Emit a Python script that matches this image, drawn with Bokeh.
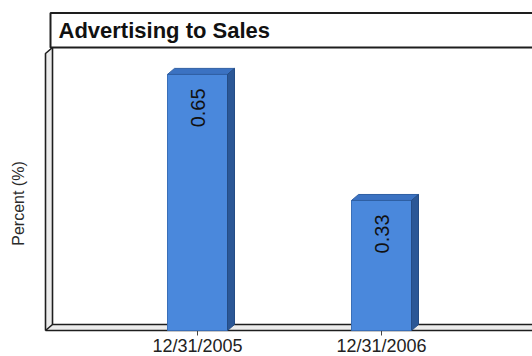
from math import pi
from bokeh.plotting import figure
from bokeh.models import Range1d
from bokeh.core.properties import value
from bokeh.embed import file_html
from bokeh.resources import INLINE

# ---- data ----
title = "Advertising to Sales"
y_label = "Percent (%)"
categories = ["12/31/2005", "12/31/2006"]
values = [0.65, 0.33]
value_labels = ["0.65", "0.33"]

# ---- layout helpers (pixel <-> data mapping) ----
W, H = 532, 356
x0, sx = 197.0, 184.0   # pixel of first category centre, pixels per category
y0, sy = 330.0, 394.0   # pixel of zero line, pixels per unit
xr = Range1d(-x0 / sx, (W - x0) / sx)
yr = Range1d(-(H - y0) / sy, y0 / sy)


def X(px):
    return (px - x0) / sx


def Y(py):
    return (y0 - py) / sy


FONT = value("Liberation Sans")

p = figure(width=W, height=H, x_range=xr, y_range=yr, output_backend="svg",
           toolbar_location=None, min_border=0, x_axis_location=None,
           y_axis_location=None, outline_line_color=None)
p.grid.grid_line_color = None
p.background_fill_color = "white"
p.border_fill_color = "white"

# ---- 3D wall and floor ----
edge = "#1e1e1e"
p.patch([X(45), X(45), X(52), X(52)], [Y(330), Y(53), Y(47), Y(324)],
        fill_color="#ececec", line_color=None)
p.patch([X(45), X(52), X(545), X(545)], [Y(330), Y(324), Y(324), Y(330)],
        fill_color="#ececec", line_color=None)
p.multi_line(
    xs=[[X(45), X(45), X(52)], [X(52), X(52), X(545)], [X(45), X(545)], [X(45), X(52)]],
    ys=[[Y(330), Y(53), Y(47)], [Y(47), Y(324), Y(324)], [Y(330), Y(330)], [Y(330), Y(324)]],
    line_color=edge, line_width=1.6)

# ---- tick marks ----
bx = list(range(len(values)))
p.segment(x0=bx, y0=[0] * len(bx), x1=bx, y1=[Y(335)] * len(bx),
          line_color="#444444", line_width=1)

# ---- bars (front, top, side) ----
bw = 60 / sx
dx, dy = 7 / sx, 6 / sy
p.vbar(x=bx, width=bw, top=values, bottom=0, fill_color="#4a88dc",
       line_color="#3a6fb8", line_width=1)
top_xs = [[b - bw / 2, b - bw / 2 + dx, b + bw / 2 + dx, b + bw / 2] for b in bx]
top_ys = [[v, v + dy, v + dy, v] for v in values]
p.patches(top_xs, top_ys, fill_color="#3b72c2", line_color="#2f5fa3", line_width=1)
side_xs = [[b + bw / 2, b + bw / 2 + dx, b + bw / 2 + dx, b + bw / 2] for b in bx]
side_ys = [[0, dy, v + dy, v] for v in values]
p.patches(side_xs, side_ys, fill_color="#2b5796", line_color="#244c85", line_width=1)

# ---- value labels inside bars ----
p.text(x=bx, y=values, text=value_labels, angle=pi / 2, text_align="right",
       text_baseline="middle", y_offset=14, text_font=FONT,
       text_font_size="20px", text_color="#111111")

# ---- category labels ----
p.text(x=bx, y=[Y(345)] * len(bx), text=categories, text_align="center",
       text_baseline="middle", text_font=FONT, text_font_size="18px",
       text_color="#222222")

# ---- y axis label ----
p.text(x=[X(18)], y=[Y(203)], text=[y_label], angle=pi / 2, text_align="center",
       text_baseline="middle", text_font=FONT, text_font_size="16px",
       text_color="#2a2a2a")

# ---- title box ----
p.quad(left=[X(50)], right=[X(545)], top=[Y(12.5)], bottom=[Y(47)],
       fill_color="white", line_color=edge, line_width=2)
p.text(x=[X(58)], y=[Y(30)], text=[title], text_align="left",
       text_baseline="middle", text_font=FONT, text_font_size="22px",
       text_font_style="bold", text_color="#111111")

open("out.html", "w").write(file_html(p, INLINE))
